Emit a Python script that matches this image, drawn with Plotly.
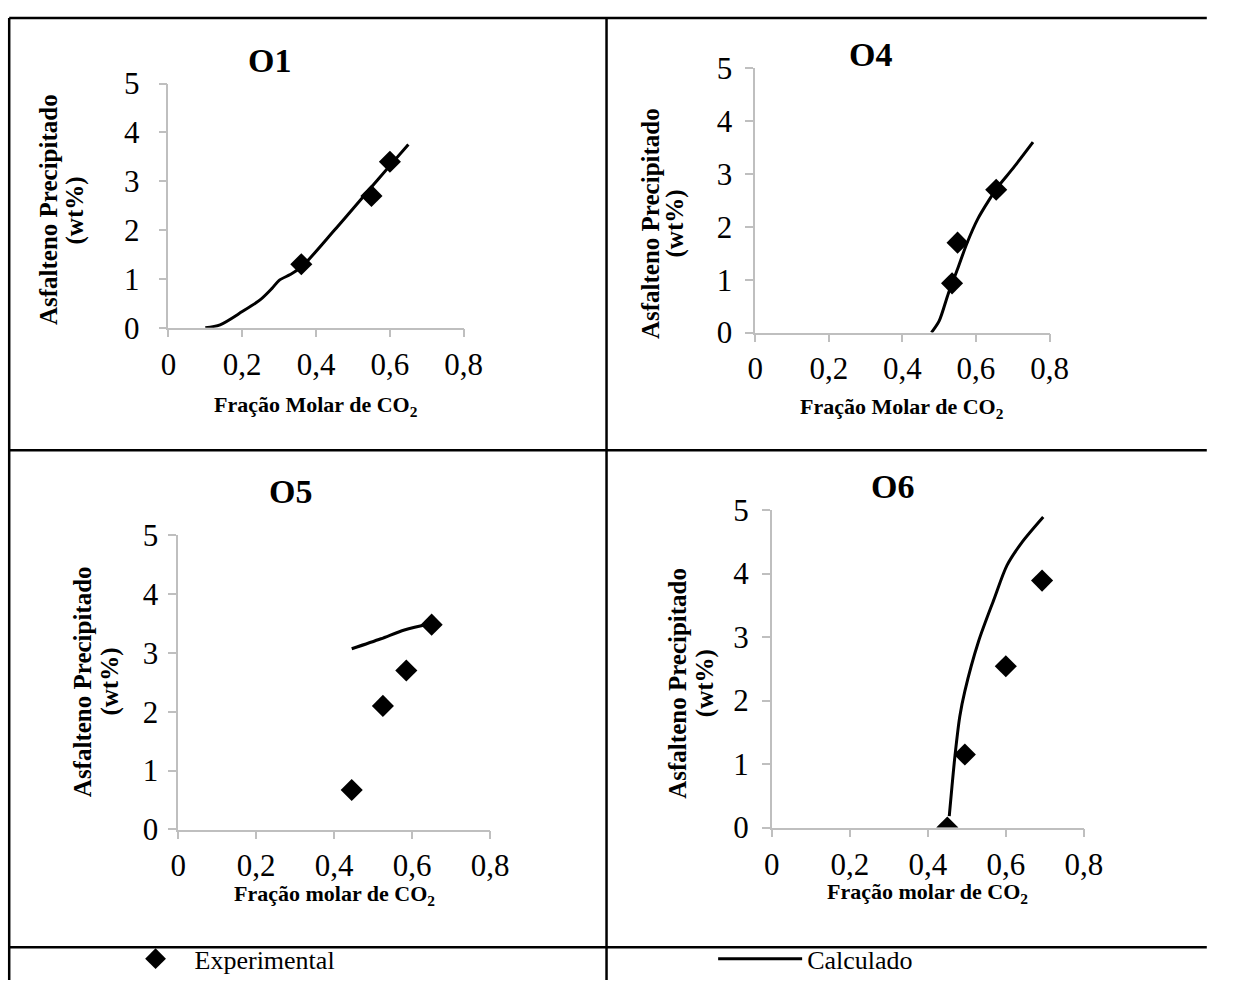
import plotly.graph_objects as go

# Target screen canvas; the page puts the figure 8px from the top-left corner
W0, H0 = 1235, 1007
OX, OY = 8, 8
W, H = W0 - OX, H0 - OY
SERIF = "Liberation Serif, Times New Roman, serif"

# ---------------- data ----------------
x_tickvals = [0, 0.2, 0.4, 0.6, 0.8]
x_ticktext = ["0", "0,2", "0,4", "0,6", "0,8"]
y_tickvals = [0, 1, 2, 3, 4, 5]
y_ticktext = ["0", "1", "2", "3", "4", "5"]

panel_titles = ["O1", "O4", "O5", "O6"]
x_titles = ["Fração Molar de CO<sub>2</sub>", "Fração Molar de CO<sub>2</sub>",
            "Fração molar de CO<sub>2</sub>", "Fração molar de CO<sub>2</sub>"]
y_title_lines = ["Asfalteno Precipitado", "(wt%)"]
legend_names = ["Experimental", "Calculado"]

o1_exp_x = [0.36, 0.55, 0.60]
o1_exp_y = [1.30, 2.70, 3.40]
o1_calc_x = [0.10, 0.14, 0.20, 0.25, 0.28, 0.30, 0.33, 0.36, 0.45, 0.55, 0.60, 0.65]
o1_calc_y = [0.00, 0.06, 0.33, 0.58, 0.80, 0.97, 1.09, 1.24, 2.00, 2.88, 3.32, 3.75]

o4_exp_x = [0.535, 0.550, 0.655]
o4_exp_y = [0.93, 1.70, 2.70]
o4_calc_x = [0.479, 0.500, 0.525, 0.550, 0.575, 0.605, 0.635, 0.660, 0.700, 0.755]
o4_calc_y = [0.00, 0.22, 0.74, 1.20, 1.68, 2.15, 2.50, 2.76, 3.10, 3.60]

o5_exp_x = [0.445, 0.525, 0.585, 0.650]
o5_exp_y = [0.67, 2.10, 2.70, 3.48]
o5_calc_x = [0.445, 0.520, 0.580, 0.650]
o5_calc_y = [3.07, 3.24, 3.39, 3.50]

o6_exp_x = [0.450, 0.495, 0.600, 0.693]
o6_exp_y = [0.00, 1.15, 2.54, 3.89]
o6_calc_x = [0.455, 0.462, 0.470, 0.482, 0.495, 0.530, 0.570, 0.603, 0.640, 0.696]
o6_calc_y = [0.18, 0.65, 1.15, 1.75, 2.15, 2.93, 3.60, 4.13, 4.48, 4.89]

series = [
    (o1_exp_x, o1_exp_y, o1_calc_x, o1_calc_y),
    (o4_exp_x, o4_exp_y, o4_calc_x, o4_calc_y),
    (o5_exp_x, o5_exp_y, o5_calc_x, o5_calc_y),
    (o6_exp_x, o6_exp_y, o6_calc_x, o6_calc_y),
]

# ---------------- layout geometry (screen pixels) ----------------
# (x-pixel of x=0, x-pixel of x=0.8, y-pixel of y=0, y-pixel of y=5)
boxes = [(172, 474, 330, 77), (772, 1073, 335, 61), (182, 501, 850, 545), (789, 1108, 848, 519)]
title_pos = [(275, 53), (890, 47), (297, 500), (912, 495)]
xtitle_y = [411, 413, 918, 916]
ytick_standoff = [13, 7, 4, 7]
ytitle_lines_x = [(50, 77), (665, 690), (85, 112), (693, 720)]
ytitle_yc = [208, 222, 697, 698]


def px(x):
    return min(max((x - OX) / W, 0.001), 0.999)


def py(y):
    return min(max(1 - (y - OY) / H, 0.001), 0.999)


fig = go.Figure()
layout = dict(
    width=W, height=H,
    margin=dict(l=0, r=0, t=0, b=0),
    paper_bgcolor="white", plot_bgcolor="white",
    font=dict(family=SERIF, color="black"),
    annotations=[], shapes=[],
)

axis_common = dict(
    showgrid=False, zeroline=False,
    showline=True, linecolor="#BFBFBF", linewidth=1.5,
    ticks="outside", ticklen=8, tickcolor="#BFBFBF", tickwidth=1.5,
    tickfont=dict(family=SERIF, size=31, color="black"),
    fixedrange=True,
)

for i, ((ex, ey, cx, cy), (x0, x1, y0, y5)) in enumerate(zip(series, boxes)):
    n = "" if i == 0 else str(i + 1)
    xa, ya = "x" + n, "y" + n
    fig.add_trace(go.Scatter(
        x=ex, y=ey, mode="markers", xaxis=xa, yaxis=ya,
        marker=dict(symbol="diamond", size=17, color="black"),
        name=legend_names[0], showlegend=(i == 0), legend="legend",
    ))
    fig.add_trace(go.Scatter(
        x=cx, y=cy, mode="lines", xaxis=xa, yaxis=ya,
        line=dict(color="black", width=3, shape="spline", smoothing=0.8),
        name=legend_names[1], showlegend=(i == 0), legend="legend2",
    ))
    layout["xaxis" + n] = dict(
        axis_common, domain=[px(x0), px(x1)], range=[0, 0.8],
        tickvals=x_tickvals, ticktext=x_ticktext, anchor=ya,
        ticklabelstandoff=0,
    )
    layout["yaxis" + n] = dict(
        axis_common, domain=[py(y0), py(y5)], range=[0, 5],
        tickvals=y_tickvals, ticktext=y_ticktext, anchor=xa,
        ticklabelstandoff=ytick_standoff[i],
    )
    tx, ty = title_pos[i]
    layout["annotations"].append(dict(
        text="<b>" + panel_titles[i] + "</b>", x=px(tx), y=py(ty),
        xref="paper", yref="paper", showarrow=False,
        font=dict(family=SERIF, size=34, color="black"),
        xanchor="center", yanchor="middle",
    ))
    layout["annotations"].append(dict(
        text="<b>" + x_titles[i] + "</b>", x=px((x0 + x1) / 2), y=py(xtitle_y[i]),
        xref="paper", yref="paper", showarrow=False,
        font=dict(family=SERIF, size=22, color="black"),
        xanchor="center", yanchor="middle",
    ))
    for line_text, lx in zip(y_title_lines, ytitle_lines_x[i]):
        layout["annotations"].append(dict(
            text="<b>" + line_text + "</b>", x=px(lx), y=py(ytitle_yc[i]),
            xref="paper", yref="paper", showarrow=False, textangle=-90,
            font=dict(family=SERIF, size=25, color="black"),
            xanchor="center", yanchor="middle",
        ))

# table borders (screen pixels)
border = dict(color="black", width=2.5)
for (a, b, c, d) in [(7, 4, W0, 4), (7, 4, 7, H0), (620, 4, 620, H0),
                     (7, 457, W0, 457), (7, 972, W0, 972)]:
    layout["shapes"].append(dict(type="line", xref="paper", yref="paper",
                                 x0=px(a), y0=py(b), x1=px(c), y1=py(d), line=border))

layout["legend"] = dict(x=px(119), y=py(984), xanchor="left", yanchor="middle",
                        font=dict(family=SERIF, size=26, color="black"),
                        bgcolor="rgba(0,0,0,0)", itemwidth=68)
layout["legend2"] = dict(x=px(729), y=py(984), xanchor="left", yanchor="middle",
                         font=dict(family=SERIF, size=26, color="black"),
                         bgcolor="rgba(0,0,0,0)", itemwidth=84)
layout["showlegend"] = True

fig.update_layout(**layout)
fig.write_html("out.html")
